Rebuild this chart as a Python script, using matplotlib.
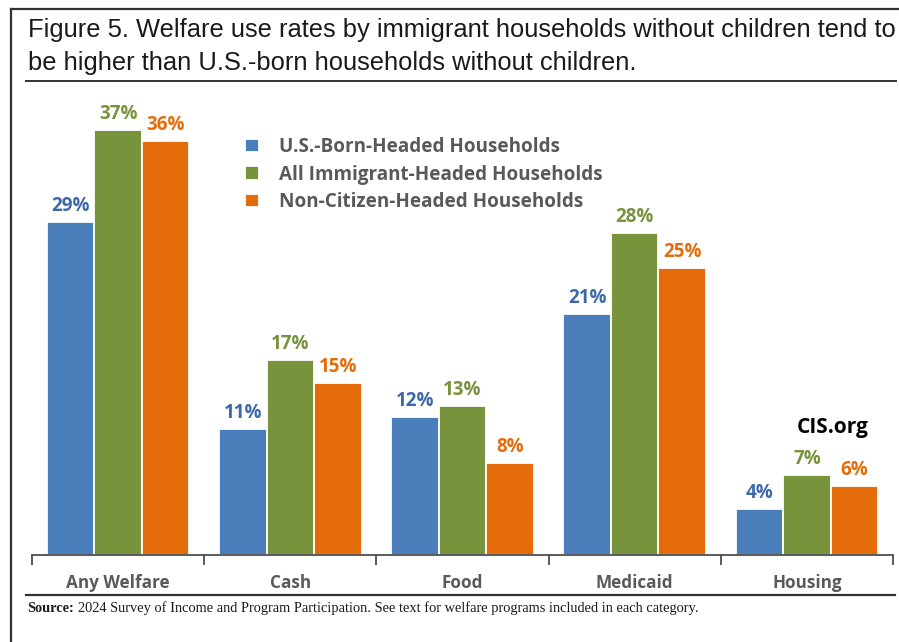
import matplotlib.pyplot as plt
import numpy as np
from matplotlib.lines import Line2D

# ===== DATA =====
categories = ['Any Welfare', 'Cash', 'Food', 'Medicaid', 'Housing']
us_born = [29, 11, 12, 21, 4]
all_immigrant = [37, 17, 13, 28, 7]
non_citizen = [36, 15, 8, 25, 6]
series_labels = ['U.S.-Born-Headed Households',
                 'All Immigrant-Headed Households',
                 'Non-Citizen-Headed Households']

bar_colors = ['#4a7ebb', '#77933c', '#e46c0a']
label_colors = ['#3d69a8', '#77933c', '#e46c0a']
text_gray = '#595959'

title_lines = ['Figure 5. Welfare use rates by immigrant households without children tend to',
               'be higher than U.S.-born households without children.']
source_text = ('2024 Survey of Income and Program Participation. '
               'See text for welfare programs included in each category.')

W, H = 899, 642
fig = plt.figure(figsize=(W / 100, H / 100), dpi=100)

def fx(px):
    return px / W

def fy(py):
    return 1 - py / H

ax = fig.add_axes([fx(32), fy(555), fx(893) - fx(32), fy(95) - fy(555)])

x = np.arange(len(categories))
width = 0.276
for i, vals in enumerate([us_born, all_immigrant, non_citizen]):
    r = ax.bar(x + (i - 1) * width, vals, width, color=bar_colors[i],
               edgecolor='white', linewidth=1.3, label=series_labels[i], zorder=2)
    for rect, v in zip(r, vals):
        ax.annotate(f'{v}%', xy=(rect.get_x() + rect.get_width() / 2, v),
                    xytext=(0, 4), textcoords='offset points', ha='center', va='bottom',
                    fontsize=13.5, fontweight='bold', color=label_colors[i],
                    family='Open Sans')

ax.set_xlim(-0.5, len(categories) - 0.5)
ax.set_ylim(0, 40)
ax.set_yticks([])
for s in ['top', 'right', 'left']:
    ax.spines[s].set_visible(False)
ax.spines['bottom'].set_color('#404040')
ax.spines['bottom'].set_linewidth(1.2)

# category boundaries as tick marks, labels centred under each group
ax.set_xticks(np.arange(len(categories) + 1) - 0.5)
ax.set_xticklabels([])
ax.tick_params(axis='x', direction='out', length=7, width=1.2, color='#404040')
for xi, name in zip(x, categories):
    ax.text(xi, -2.4, name, ha='center', va='center', fontsize=12.3,
            fontweight='bold', color=text_gray, family='Open Sans')

ax_w = fx(893) - fx(32)
ax_h = fy(95) - fy(555)
leg = ax.legend(loc='upper left',
                bbox_to_anchor=((fx(236) - fx(32)) / ax_w, (fy(128) - fy(555)) / ax_h),
                frameon=False, handlelength=0.7, handleheight=0.7, handletextpad=1.1,
                labelspacing=0.38, borderpad=0,
                prop={'family': 'Open Sans', 'weight': 'bold', 'size': 13.6})
for t in leg.get_texts():
    t.set_color(text_gray)

fig.text(fx(833), fy(427), 'CIS.org', ha='center', va='center', fontsize=15,
         fontweight='bold', color='black', family='Open Sans')

# title
for yy, line in zip([30, 63], title_lines):
    fig.text(fx(28), fy(yy), line, ha='left', va='center', fontsize=18.35,
             family='Liberation Sans', color='#1a1a1a')

# source note: bold lead-in followed by regular text
src_bold = fig.text(fx(27), fy(608), 'Source:', ha='left', va='center', fontsize=10.4,
                    fontweight='bold', family='Liberation Serif', color='#1a1a1a')
fig.canvas.draw()
bb = src_bold.get_window_extent()
fig.text(bb.x1 / W + fx(4), fy(608), source_text, ha='left', va='center', fontsize=10.4,
         family='Liberation Serif', color='#1a1a1a')

# frame and rules
for (x0, y0, x1, y1, lw) in [(11, 9, 899, 9, 1.6), (11, 9, 11, 642, 1.6),
                             (26, 81, 896, 81, 1.4), (26, 595, 895, 595, 1.6)]:
    fig.add_artist(Line2D([fx(x0), fx(x1)], [fy(y0), fy(y1)], color='#333333', lw=lw))

plt.savefig('out.png', dpi=100, facecolor='white')
